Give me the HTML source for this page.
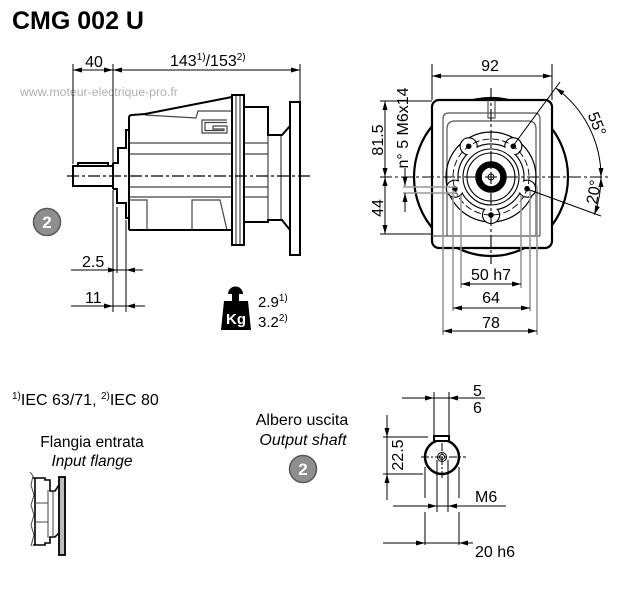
<!DOCTYPE html>
<html><head><meta charset="utf-8"><style>
html,body{margin:0;padding:0;background:#fff;}
svg{display:block;}
text{font-family:"Liberation Sans",Arial,sans-serif;fill:#000;}
</style></head><body>
<svg width="636" height="592" viewBox="0 0 636 592" xmlns="http://www.w3.org/2000/svg">
<rect width="636" height="592" fill="#fff"/>
<text x="12" y="29" font-size="25" font-weight="bold">CMG 002 U</text>
<text x="20" y="96" font-size="12.3" style="fill:#b0b0b0">www.moteur-electrique-pro.fr</text>

<!-- ===== SIDE VIEW ===== -->
<g fill="none" stroke="#000" stroke-width="1">
  <line x1="73" y1="64" x2="73" y2="164"/>
  <line x1="113" y1="64" x2="113" y2="164"/>
  <line x1="300" y1="64" x2="300" y2="101"/>
  <line x1="73" y1="70" x2="300" y2="70"/>
  <line x1="113" y1="190" x2="113" y2="312"/>
  <line x1="117" y1="207" x2="117" y2="273"/>
  <line x1="126" y1="220" x2="126" y2="312"/>
  <line x1="71" y1="270" x2="143" y2="270"/>
  <line x1="71" y1="306" x2="145" y2="306"/>
</g>
<g fill="#000">
  <path d="M73,70 l9,-2.5 v5z"/><path d="M113,70 l-9,-2.5 v5z"/>
  <path d="M113,70 l9,-2.5 v5z"/><path d="M300,70 l-9,-2.5 v5z"/>
  <path d="M117,270 l-9,-2.5 v5z"/><path d="M126,270 l9,-2.5 v5z"/>
  <path d="M113,306 l-9,-2.5 v5z"/><path d="M126,306 l9,-2.5 v5z"/>
</g>
<text x="94" y="67" font-size="16" text-anchor="middle">40</text>
<text x="170" y="66" font-size="16">143<tspan font-size="10" dy="-6">1)</tspan><tspan dy="6">/153</tspan><tspan font-size="10" dy="-6">2)</tspan></text>
<text x="82" y="267" font-size="16">2.5</text>
<text x="85" y="303" font-size="16">11</text>

<g fill="none" stroke="#444" stroke-width="1.2">
  <line x1="129" y1="143" x2="232" y2="143"/><line x1="244" y1="143" x2="268" y2="143"/>
  <line x1="129" y1="154" x2="232" y2="154"/><line x1="244" y1="154" x2="268" y2="154"/>
  <line x1="129" y1="187" x2="232" y2="187"/><line x1="244" y1="187" x2="268" y2="187"/>
  <line x1="129" y1="197" x2="232" y2="197"/><line x1="244" y1="197" x2="268" y2="197"/>
  <line x1="236" y1="96" x2="236" y2="244"/><line x1="240" y1="96" x2="240" y2="244"/>
  <line x1="268" y1="135" x2="268" y2="220"/>
  <line x1="281" y1="135" x2="281" y2="220"/>
  <path d="M145,115 L196,118 L198,111 L232,111"/>
  <path d="M130,200 H147 V230"/>
  <path d="M192,230 V200 H220 L227,230"/>
  <path d="M227,120 H202 V133 H227 V126 H213 V129 H224 V130.5 H205 V122.5 H227"/>
</g>
<g fill="none" stroke="#000" stroke-width="2" stroke-linejoin="miter">
  <rect x="73" y="166" width="40" height="20"/>
  <path d="M78,166 V163 H108 V166"/>
  <path d="M113,163 H118 V148 H126 V130 H129"/>
  <path d="M113,189 H117 V203 H126 V218 H129"/>
  <line x1="113" y1="163" x2="113" y2="189"/>
  <path d="M129,230 V118 Q129,115 132,115 L145,114 L232,97"/>
  <line x1="129" y1="230" x2="232" y2="230"/>
  <rect x="232" y="95" width="12" height="150"/>
  <path d="M244,107 H268 V135 H282 L290,126"/>
  <path d="M244,222 H268 V220 H282 L290,230"/>
  <rect x="290" y="102" width="10" height="153"/>
</g>
<line x1="67" y1="176" x2="310" y2="176" stroke="#000" stroke-width="1.2" stroke-dasharray="12 3 3 3"/>

<circle cx="47" cy="222" r="13.5" fill="#8e8e8e" stroke="#5a5a5a" stroke-width="1.5"/>
<text x="47" y="228" font-size="17" font-weight="bold" text-anchor="middle" style="fill:#fff">2</text>

<g fill="#000">
  <path d="M228,294 A7.5,7.5 0 0 1 243,294 Z"/>
  <rect x="232" y="293" width="7" height="9"/>
  <path d="M224,301 H248 L251,330 H221 Z"/>
</g>
<text x="236" y="324" font-size="15" font-weight="bold" text-anchor="middle" style="fill:#fff">Kg</text>
<text x="258" y="307" font-size="15">2.9<tspan font-size="10" dy="-6">1)</tspan></text>
<text x="258" y="327" font-size="15">3.2<tspan font-size="10" dy="-6">2)</tspan></text>

<!-- ===== FRONT VIEW ===== -->
<ellipse cx="491" cy="177" rx="77" ry="79" fill="#fff" stroke="#000" stroke-width="2.2"/>
<rect x="432" y="100" width="120" height="148" rx="7" fill="#fff" stroke="#000" stroke-width="2.2"/>
<g fill="none" stroke="#555" stroke-width="1.2">
  <path d="M443,236 V119 Q443,113 449,113 H534 Q540,113 540,119 V236"/>
  <path d="M447,236 V129 Q447,121 455,121 H528 Q536,121 536,129 V236"/>
  <line x1="432" y1="236" x2="540" y2="236"/>
  <path d="M488,100 V118 H495 V100"/>
</g>
<circle cx="491" cy="177" r="45" fill="none" stroke="#000" stroke-width="1.2"/>
<g fill="none" stroke="#000" stroke-width="1.2">
  <circle cx="491" cy="177" r="33"/>
  <circle cx="491" cy="215" r="8.5"/>
  <circle cx="527.1" cy="188.7" r="8.5"/>
  <circle cx="454.9" cy="188.7" r="8.5"/>
  <circle cx="468.7" cy="146.3" r="8.5"/>
  <circle cx="513.3" cy="146.3" r="8.5"/>
</g>
<g fill="#fff">
  <circle cx="491" cy="177" r="32.4"/>
  <circle cx="491" cy="215" r="7.9"/>
  <circle cx="527.1" cy="188.7" r="7.9"/>
  <circle cx="454.9" cy="188.7" r="7.9"/>
  <circle cx="468.7" cy="146.3" r="7.9"/>
  <circle cx="513.3" cy="146.3" r="7.9"/>
</g>
<circle cx="491" cy="177" r="38" fill="none" stroke="#000" stroke-width="0.9" stroke-dasharray="7 3"/>
<circle cx="491" cy="177" r="28" fill="none" stroke="#000" stroke-width="1.1"/>
<circle cx="491" cy="177" r="24" fill="none" stroke="#000" stroke-width="1.1"/>
<circle cx="491" cy="177" r="12.5" fill="none" stroke="#000" stroke-width="6.5"/>
<circle cx="491" cy="177" r="3" fill="none" stroke="#000" stroke-width="1"/>
<g fill="#000">
  <circle cx="491" cy="215" r="2.8"/>
  <circle cx="527.1" cy="188.7" r="2.8"/>
  <circle cx="454.9" cy="188.7" r="2.8"/>
  <circle cx="468.7" cy="146.3" r="2.8"/>
  <circle cx="513.3" cy="146.3" r="2.8"/>
</g>
<g stroke="#999" stroke-width="1.6" fill="none">
  <line x1="443" y1="185" x2="443" y2="335"/>
  <line x1="453" y1="190" x2="453" y2="311"/>
  <line x1="461" y1="195" x2="461" y2="288"/>
  <line x1="521" y1="195" x2="521" y2="288"/>
  <line x1="530" y1="190" x2="530" y2="311"/>
  <line x1="537" y1="185" x2="537" y2="335"/>
  <line x1="403" y1="187" x2="457" y2="187"/>
  <line x1="403" y1="193" x2="457" y2="193"/>
</g>
<g stroke="#000" stroke-width="1.1" stroke-dasharray="12 3 3 3">
  <line x1="491" y1="88" x2="491" y2="264"/>
  <line x1="380" y1="177" x2="610" y2="177"/>
</g>
<g fill="none" stroke="#000" stroke-width="1">
  <line x1="432" y1="64" x2="432" y2="100"/>
  <line x1="552" y1="64" x2="552" y2="100"/>
  <line x1="432" y1="76" x2="552" y2="76"/>
  <line x1="380" y1="101" x2="432" y2="101"/>
  <line x1="380" y1="234" x2="432" y2="234"/>
  <line x1="385" y1="101" x2="385" y2="234"/>
  <line x1="405" y1="168" x2="405" y2="186"/>
  <line x1="405" y1="193" x2="405" y2="212"/>
  <line x1="461" y1="284" x2="521" y2="284"/>
  <line x1="453" y1="308" x2="530" y2="308"/>
  <line x1="443" y1="331" x2="537" y2="331"/>
  <line x1="513" y1="146" x2="560" y2="82"/>
  <line x1="527" y1="189" x2="601" y2="216"/>
  <path d="M555.7,88 A110,110 0 0 1 601,177"/>
  <path d="M601,177 A110,110 0 0 1 594.4,214.6"/>
</g>
<g fill="#000">
  <path d="M432,76 l9,-2.5 v5z"/><path d="M552,76 l-9,-2.5 v5z"/>
  <path d="M385,101 l-2.5,9 h5z"/><path d="M385,177 l-2.5,-9 h5z"/>
  <path d="M385,177 l-2.5,9 h5z"/><path d="M385,234 l-2.5,-9 h5z"/>
  <path d="M405,186 l-2.5,-9 h5z"/><path d="M405,193 l-2.5,9 h5z"/>
  <path d="M461,284 l9,-2.5 v5z"/><path d="M521,284 l-9,-2.5 v5z"/>
  <path d="M453,308 l9,-2.5 v5z"/><path d="M530,308 l-9,-2.5 v5z"/>
  <path d="M443,331 l9,-2.5 v5z"/><path d="M537,331 l-9,-2.5 v5z"/>
  <path d="M0,0 l-9,-2.5 v5z" transform="translate(555.7,88) rotate(-144)"/>
  <path d="M0,0 l-9,-2.5 v5z" transform="translate(601,177) rotate(90)"/>
  <path d="M0,0 l-9,-2.5 v5z" transform="translate(601,178) rotate(-90)"/>
  <path d="M0,0 l-9,-2.5 v5z" transform="translate(594.4,214.6) rotate(110)"/>
</g>
<text x="490" y="71" font-size="16" text-anchor="middle">92</text>
<text transform="translate(383,140) rotate(-90)" font-size="16" text-anchor="middle">81.5</text>
<text transform="translate(383,208) rotate(-90)" font-size="16" text-anchor="middle">44</text>
<text transform="translate(408,128) rotate(-90)" font-size="16" text-anchor="middle">n° 5 M6x14</text>
<text transform="translate(592,126) rotate(68)" font-size="16" text-anchor="middle">55°</text>
<text transform="translate(599,193) rotate(-80)" font-size="16" text-anchor="middle">20°</text>
<text x="491" y="280" font-size="16" text-anchor="middle">50 h7</text>
<text x="491" y="303" font-size="16" text-anchor="middle">64</text>
<text x="491" y="328" font-size="16" text-anchor="middle">78</text>

<!-- ===== BOTTOM LEFT ===== -->
<text x="12" y="405" font-size="16"><tspan font-size="10" dy="-6">1)</tspan><tspan dy="6">IEC 63/71, </tspan><tspan font-size="10" dy="-6">2)</tspan><tspan dy="6">IEC 80</tspan></text>
<text x="92" y="447" font-size="15.5" text-anchor="middle">Flangia entrata</text>
<text x="92" y="466" font-size="15.5" font-style="italic" text-anchor="middle">Input flange</text>
<g fill="none" stroke="#000" stroke-width="1.6">
  <path d="M30,472 L33,476 L31,485 L34,495 L31,505 L34,515 L31,525 L34,535 L31,546" stroke-width="1" stroke="#444"/>
  <path d="M33,478 H45 V480 H50 V491 H55 L59,485"/>
  <path d="M33,545 H45 V543 H50 V537 H55 L59,533"/>
  <line x1="35" y1="478" x2="35" y2="545"/>
</g>
<g fill="none" stroke="#444" stroke-width="1">
  <line x1="48" y1="490" x2="48" y2="538"/>
  <line x1="53" y1="491" x2="53" y2="537"/>
  <line x1="35" y1="503" x2="48" y2="503"/>
  <line x1="35" y1="522" x2="48" y2="522"/>
</g>
<rect x="59" y="477" width="6" height="78" fill="#bbb" stroke="#000" stroke-width="1.8"/>

<!-- ===== OUTPUT SHAFT ===== -->
<text x="302" y="425" font-size="16" text-anchor="middle">Albero uscita</text>
<text x="303" y="445" font-size="16" font-style="italic" text-anchor="middle">Output shaft</text>
<circle cx="303" cy="469" r="13.5" fill="#8e8e8e" stroke="#5a5a5a" stroke-width="1.5"/>
<text x="303" y="475" font-size="17" font-weight="bold" text-anchor="middle" style="fill:#fff">2</text>

<g fill="none" stroke="#000" stroke-width="1">
  <line x1="434" y1="392" x2="434" y2="436"/>
  <line x1="449" y1="392" x2="449" y2="436"/>
  <line x1="402" y1="398" x2="485" y2="398"/>
  <line x1="383" y1="437" x2="428" y2="437"/>
  <line x1="383" y1="474" x2="423" y2="474"/>
  <line x1="387" y1="415" x2="387" y2="500"/>
  <line x1="425" y1="467" x2="425" y2="498"/>
  <line x1="425" y1="512" x2="425" y2="545"/>
  <line x1="459" y1="467" x2="459" y2="498"/>
  <line x1="459" y1="512" x2="459" y2="545"/>
  <line x1="437" y1="460" x2="437" y2="512"/>
  <line x1="448" y1="460" x2="448" y2="512"/>
  <line x1="393" y1="506" x2="506" y2="506"/>
  <line x1="383" y1="543" x2="473" y2="543"/>
</g>
<circle cx="442" cy="457" r="17" fill="none" stroke="#000" stroke-width="2.5"/>
<rect x="434" y="436" width="15" height="5" fill="#fff" stroke="#000" stroke-width="2"/>
<circle cx="442" cy="457" r="4.5" fill="none" stroke="#000" stroke-width="1"/>
<circle cx="442" cy="457" r="2.5" fill="none" stroke="#000" stroke-width="1"/>
<g stroke="#000" stroke-width="1" stroke-dasharray="8 2 2 2">
  <line x1="421" y1="457" x2="466" y2="457"/>
  <line x1="442" y1="443" x2="442" y2="478"/>
</g>
<g fill="#000">
  <path d="M434,398 l-9,-2.5 v5z"/><path d="M449,398 l9,-2.5 v5z"/>
  <path d="M387,437 l-2.5,-9 h5z"/><path d="M387,474 l-2.5,9 h5z"/>
  <path d="M437,506 l-9,-2.5 v5z"/><path d="M448,506 l9,-2.5 v5z"/>
  <path d="M425,543 l-9,-2.5 v5z"/><path d="M459,543 l9,-2.5 v5z"/>
</g>
<text x="473" y="396" font-size="16">5</text>
<text x="473" y="413" font-size="16">6</text>
<text transform="translate(403,455) rotate(-90)" font-size="16" text-anchor="middle">22.5</text>
<text x="475" y="502" font-size="16">M6</text>
<text x="475" y="557" font-size="16">20 h6</text>
</svg>
</body></html>
